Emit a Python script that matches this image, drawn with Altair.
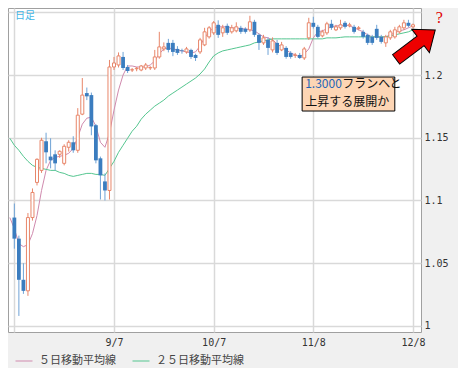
import altair as alt
import pandas as pd

# ---------------- data ----------------
dates = pd.bdate_range("2011-08-08", "2011-12-08")
date_labels = [f"{d.month}/{d.day}" for d in dates]

opens = [1.0864, 1.0696, 1.0368, 1.0280, 1.0864, 1.1144, 1.1240, 1.1472, 1.1350, 1.1368,
         1.1368, 1.1296, 1.1424, 1.1464, 1.1400, 1.1688, 1.1856, 1.1840, 1.1600, 1.1336,
         1.1152, 1.1080, 1.2064, 1.2080, 1.2144, 1.2064, 1.2040, 1.2050, 1.2040, 1.2056,
         1.2056, 1.2056, 1.2144, 1.2208, 1.2256, 1.2256, 1.2208, 1.2196, 1.2184, 1.2200,
         1.2160, 1.2184, 1.2240, 1.2304, 1.2336, 1.2400, 1.2336, 1.2392, 1.2344, 1.2352,
         1.2376, 1.2368, 1.2360, 1.2424, 1.2320, 1.2256, 1.2280, 1.2200, 1.2256, 1.2200,
         1.2216, 1.2176, 1.2156, 1.2160, 1.2136, 1.2296, 1.2416, 1.2384, 1.2312, 1.2336,
         1.2408, 1.2360, 1.2376, 1.2416, 1.2392, 1.2384, 1.2370, 1.2344, 1.2320, 1.2304,
         1.2368, 1.2304, 1.2256, 1.2296, 1.2304, 1.2344, 1.2376, 1.2416, 1.2384]
highs = [1.0976, 1.0720, 1.0500, 1.0900, 1.1096, 1.1336, 1.1500, 1.1540, 1.1496, 1.1400,
         1.1400, 1.1448, 1.1480, 1.1512, 1.1736, 1.1976, 1.1900, 1.1860, 1.1610, 1.1350,
         1.1216, 1.2120, 1.2144, 1.2180, 1.2184, 1.2080, 1.2056, 1.2064, 1.2080, 1.2096,
         1.2070, 1.2200, 1.2344, 1.2260, 1.2288, 1.2280, 1.2230, 1.2210, 1.2224, 1.2210,
         1.2170, 1.2296, 1.2376, 1.2390, 1.2430, 1.2436, 1.2400, 1.2410, 1.2400, 1.2420,
         1.2392, 1.2380, 1.2472, 1.2440, 1.2330, 1.2320, 1.2300, 1.2300, 1.2280, 1.2264,
         1.2230, 1.2190, 1.2176, 1.2176, 1.2224, 1.2456, 1.2464, 1.2400, 1.2360, 1.2424,
         1.2440, 1.2400, 1.2440, 1.2430, 1.2416, 1.2400, 1.2390, 1.2360, 1.2330, 1.2320,
         1.2400, 1.2320, 1.2320, 1.2360, 1.2384, 1.2400, 1.2440, 1.2440, 1.2410]
lows = [1.0616, 1.0080, 1.0256, 1.0240, 1.0840, 1.1120, 1.1220, 1.1296, 1.1256, 1.1240,
        1.1340, 1.1280, 1.1390, 1.1380, 1.1380, 1.1680, 1.1800, 1.1520, 1.1296, 1.1008,
        1.1000, 1.1008, 1.2040, 1.2060, 1.2040, 1.2016, 1.2024, 1.2030, 1.2030, 1.2040,
        1.2040, 1.2040, 1.2130, 1.2190, 1.2180, 1.2150, 1.2160, 1.2170, 1.2170, 1.2128,
        1.2112, 1.2168, 1.2230, 1.2290, 1.2320, 1.2296, 1.2304, 1.2320, 1.2330, 1.2340,
        1.2328, 1.2330, 1.2344, 1.2304, 1.2200, 1.2240, 1.2160, 1.2180, 1.2160, 1.2190,
        1.2130, 1.2130, 1.2136, 1.2128, 1.2120, 1.2280, 1.2370, 1.2290, 1.2300, 1.2320,
        1.2360, 1.2350, 1.2360, 1.2370, 1.2380, 1.2330, 1.2356, 1.2290, 1.2240, 1.2240,
        1.2280, 1.2250, 1.2224, 1.2280, 1.2290, 1.2330, 1.2360, 1.2380, 1.2370]
closes = [1.0696, 1.0368, 1.0280, 1.0864, 1.1064, 1.1328, 1.1480, 1.1384, 1.1320, 1.1296,
          1.1392, 1.1432, 1.1464, 1.1400, 1.1680, 1.1840, 1.1830, 1.1590, 1.1320, 1.1200,
          1.1080, 1.2064, 1.2096, 1.2152, 1.2056, 1.2032, 1.2042, 1.2054, 1.2072, 1.2080,
          1.2060, 1.2144, 1.2224, 1.2224, 1.2200, 1.2184, 1.2176, 1.2190, 1.2208, 1.2144,
          1.2136, 1.2280, 1.2344, 1.2376, 1.2416, 1.2320, 1.2376, 1.2336, 1.2376, 1.2384,
          1.2344, 1.2344, 1.2424, 1.2320, 1.2256, 1.2296, 1.2216, 1.2272, 1.2176, 1.2240,
          1.2144, 1.2144, 1.2160, 1.2136, 1.2208, 1.2416, 1.2384, 1.2304, 1.2344, 1.2408,
          1.2376, 1.2384, 1.2400, 1.2384, 1.2400, 1.2344, 1.2376, 1.2304, 1.2256, 1.2256,
          1.2296, 1.2264, 1.2304, 1.2344, 1.2360, 1.2384, 1.2416, 1.2392, 1.2400]

# moving averages (first value is the day before 8/8)
ma_index = list(range(-1, 89))
ma5 = [1.0864, 1.0776, 1.0656, 1.0632, 1.0648, 1.0736, 1.0880, 1.1080, 1.1240, 1.1320, 1.1344,
       1.1352, 1.1360, 1.1376, 1.1416, 1.1504, 1.1608, 1.1656, 1.1664, 1.1592, 1.1464,
       1.1424, 1.1536, 1.1720, 1.1880, 1.2000, 1.2072, 1.2072, 1.2064, 1.2064, 1.2064,
       1.2080, 1.2112, 1.2168, 1.2208, 1.2216, 1.2208, 1.2200, 1.2192, 1.2184, 1.2176,
       1.2184, 1.2232, 1.2296, 1.2344, 1.2376, 1.2384, 1.2384, 1.2384, 1.2376, 1.2376,
       1.2368, 1.2368, 1.2360, 1.2352, 1.2328, 1.2304, 1.2296, 1.2280, 1.2248, 1.2224,
       1.2200, 1.2176, 1.2160, 1.2144, 1.2168, 1.2208, 1.2296, 1.2344, 1.2352, 1.2368,
       1.2384, 1.2392, 1.2392, 1.2400, 1.2392, 1.2376, 1.2360, 1.2344, 1.2320, 1.2304,
       1.2304, 1.2304, 1.2304, 1.2320, 1.2336, 1.2352, 1.2360, 1.2376, 1.2392]
ma25 = [1.1496, 1.1440, 1.1400, 1.1352, 1.1312, 1.1280, 1.1264, 1.1256, 1.1248, 1.1240, 1.1240,
        1.1224, 1.1216, 1.1200, 1.1192, 1.1200, 1.1208, 1.1216, 1.1216, 1.1208, 1.1208,
        1.1200, 1.1256, 1.1312, 1.1384, 1.1440, 1.1496, 1.1552, 1.1592, 1.1648, 1.1688,
        1.1720, 1.1752, 1.1776, 1.1800, 1.1832, 1.1856, 1.1880, 1.1904, 1.1928, 1.1952,
        1.1976, 1.2008, 1.2048, 1.2104, 1.2152, 1.2176, 1.2192, 1.2200, 1.2208, 1.2216,
        1.2224, 1.2232, 1.2240, 1.2256, 1.2264, 1.2272, 1.2280, 1.2288, 1.2288, 1.2288,
        1.2288, 1.2288, 1.2288, 1.2288, 1.2288, 1.2288, 1.2288, 1.2288, 1.2288, 1.2296,
        1.2296, 1.2296, 1.2300, 1.2304, 1.2304, 1.2304, 1.2304, 1.2304, 1.2304, 1.2304,
        1.2304, 1.2304, 1.2304, 1.2312, 1.2320, 1.2328, 1.2336, 1.2344, 1.2360]

series_names = ["５日移動平均線", "２５日移動平均線"]
series_colors = ["#d08aae", "#55c690"]

grid_idx = [0, 22, 44, 66, 88]
y_ticks = [1.0, 1.05, 1.1, 1.15, 1.2, 1.25]

note_num = "1.3000"
note_rest = "フランへと"
note_line2 = "上昇する展開か"
frame_label = "日足"

# ---------------- tables ----------------
n = len(closes)
candles = pd.DataFrame({
    "i": list(range(n)), "date": date_labels[:n],
    "open": opens, "high": highs, "low": lows, "close": closes,
})
candles["top"] = candles[["open", "close"]].max(axis=1)
candles["bot"] = candles[["open", "close"]].min(axis=1)
up = candles[candles["close"] >= candles["open"]]
down = candles[candles["close"] < candles["open"]]

ma_df = pd.concat([
    pd.DataFrame({"i": ma_index, "v": ma5, "s": series_names[0]}),
    pd.DataFrame({"i": ma_index, "v": ma25, "s": series_names[1]}),
])

# ---------------- scales / axes ----------------
xs = alt.Scale(domain=[-0.3, 88.67], nice=False, zero=False)
ys = alt.Scale(domain=[0.9952, 1.2534], nice=False, zero=False)

lab_expr = "''"
for gi in reversed(grid_idx[1:]):
    lab_expr = f"datum.value == {gi} ? '{date_labels[gi]}' : ({lab_expr})"

x_axis = alt.Axis(values=grid_idx, labelExpr=lab_expr, title=None, grid=True,
                  gridColor="#d9d9d9", gridWidth=1.5, domain=False, ticks=False,
                  labelFont="DejaVu Sans Mono", labelFontSize=10, labelColor="#333333",
                  labelPadding=5, labelFlush=False, labelOverlap=False)
y_axis = alt.Axis(values=y_ticks, format="~g", labelExpr="datum.value > 1.24 ? '' : datum.label",
                  orient="right", title=None, grid=True, gridColor="#d9d9d9", gridWidth=1.5,
                  domain=False, ticks=False, labelFont="DejaVu Sans Mono", labelFontSize=10,
                  labelColor="#333333", labelPadding=3, labelOverlap=False, labelFlush=False)

lines = alt.Chart(ma_df).mark_line(strokeWidth=1, clip=True).encode(
    x=alt.X("i:Q", scale=xs, axis=x_axis),
    y=alt.Y("v:Q", scale=ys, axis=y_axis),
    color=alt.Color("s:N", scale=alt.Scale(domain=series_names, range=series_colors),
                    legend=alt.Legend(orient="none", legendX=7, legendY=344, direction="horizontal",
                                      title=None, symbolType="stroke", symbolSize=289,
                                      symbolStrokeWidth=1, labelFont="Noto Sans CJK JP",
                                      labelFontSize=11, labelColor="#444444", labelOffset=6,
                                      columnPadding=14)),
    detail="s:N",
)

up_wick = alt.Chart(up).mark_rule(color="#e8866a", strokeWidth=1).encode(
    x=alt.X("i:Q", scale=xs), y=alt.Y("low:Q", scale=ys), y2="high:Q")
down_wick = alt.Chart(down).mark_rule(color="#6fa3d6", strokeWidth=1).encode(
    x=alt.X("i:Q", scale=xs), y=alt.Y("low:Q", scale=ys), y2="high:Q")
up_body = alt.Chart(up).mark_bar(size=3, fill="white", stroke="#e8866a", strokeWidth=1).encode(
    x=alt.X("i:Q", scale=xs), y=alt.Y("bot:Q", scale=ys), y2="top:Q")
down_body = alt.Chart(down).mark_bar(size=3.8, color="#3b7dbf").encode(
    x=alt.X("i:Q", scale=xs), y=alt.Y("bot:Q", scale=ys), y2="top:Q")

# ---------------- annotations ----------------
box_df = pd.DataFrame({"x1": [63.53], "x2": [83.99], "y1": [1.1713], "y2": [1.1984]})
box = alt.Chart(box_df).mark_rect(fill="#fdd5b4", stroke="#000000", strokeWidth=1).encode(
    x=alt.X("x1:Q", scale=xs), x2="x2:Q", y=alt.Y("y1:Q", scale=ys), y2="y2:Q")

t1_df = pd.DataFrame({"x": [64.2], "y": [1.1926], "t": [note_num]})
t1 = alt.Chart(t1_df).mark_text(align="left", baseline="middle", font="Noto Sans CJK JP",
                                 fontSize=12, color="#1f66b8").encode(
    x=alt.X("x:Q", scale=xs), y=alt.Y("y:Q", scale=ys), text="t:N")
t1b = alt.Chart(pd.DataFrame({"x": [64.2], "y": [1.1926], "t": [note_rest]})).mark_text(
    align="left", baseline="middle", font="Noto Sans CJK JP", fontSize=12, color="#111111",
    dx=37).encode(x=alt.X("x:Q", scale=xs), y=alt.Y("y:Q", scale=ys), text="t:N")
t2 = alt.Chart(pd.DataFrame({"x": [64.2], "y": [1.1786], "t": [note_line2]})).mark_text(
    align="left", baseline="middle", font="Noto Sans CJK JP", fontSize=12, color="#111111").encode(
    x=alt.X("x:Q", scale=xs), y=alt.Y("y:Q", scale=ys), text="t:N")

arrow_path = "M -1 -0.24 L 0.25 -0.24 L 0.25 -0.6 L 1 0 L 0.25 0.6 L 0.25 0.24 L -1 0.24 Z"
arrow = alt.Chart(pd.DataFrame({"x": [88.6], "y": [1.2242]})).mark_point(
    shape=arrow_path, size=2400, angle=323, filled=True, fill="#ee0000", stroke="#000000",
    strokeWidth=1, opacity=1, fillOpacity=1).encode(
    x=alt.X("x:Q", scale=xs), y=alt.Y("y:Q", scale=ys))

qmark = alt.Chart(pd.DataFrame({"x": [93.8], "y": [1.2454], "t": ["?"]})).mark_text(
    font="Liberation Serif", fontSize=16, color="#e00000", align="center", baseline="middle").encode(
    x=alt.X("x:Q", scale=xs), y=alt.Y("y:Q", scale=ys), text="t:N")

frame_txt = alt.Chart(pd.DataFrame({"t": [frame_label]})).mark_text(
    font="Noto Sans CJK JP", fontSize=10, color="#45b5e6", align="left", baseline="middle").encode(
    x=alt.value(7), y=alt.value(8), text="t:N")

chart = alt.layer(lines, up_wick, down_wick, up_body, down_body, box, t1, t1b, t2, arrow, qmark,
                  frame_txt).properties(
    width=413, height=324,
    autosize=alt.AutoSizeParams(type="none"),
    padding={"left": 0, "top": 0, "right": 37, "bottom": 36},
    background="#f0f0f0",
).configure_view(fill="white", stroke="#a0a0a0", strokeWidth=1)

chart.save("out.html", embed_options={"renderer": "svg", "actions": False})
